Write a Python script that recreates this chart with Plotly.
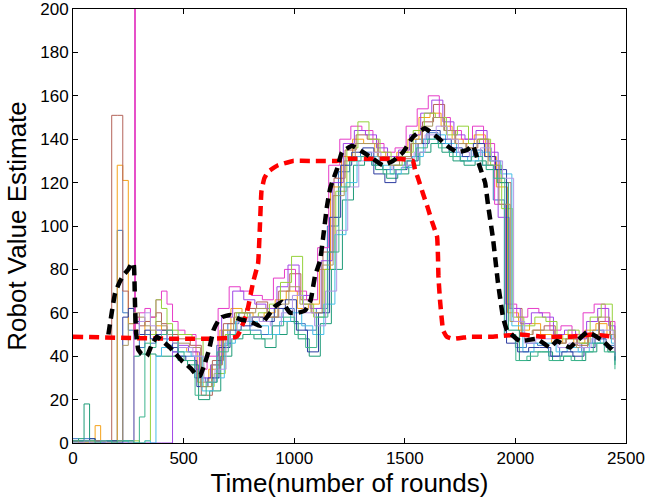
import plotly.graph_objects as go

# Time grid (rounds) on which the individual robot estimates are sampled
rounds = list(range(0, 500, 25)) + list(range(500, 2451, 50))

# Individual robot value estimates (step traces)
s_blue = [2,1,2,1,1,0,1,1,98,60,52,48,44,50,46,52,48,45,42,40,
          40,30,28,45,55,60,52,50,58,62,55,52,62,100,125,132,134,128,126,128,
          132,140,143,138,134,130,135,128,112,50,44,46,45,40,44,42,46,52,45,38]
s_orange = [0,1,0,1,8,1,0,0,128,121,55,52,48,56,50,54,52,50,46,44,
            42,28,34,52,62,60,58,60,66,70,62,64,80,118,132,140,138,134,130,134,
            140,150,152,146,140,138,142,132,118,60,52,55,50,46,50,46,52,55,50,44]
s_brown = [1,0,1,0,1,0,1,151,151,70,62,58,54,56,58,60,55,52,50,48,
           45,22,38,55,60,62,65,58,70,78,66,60,88,122,135,142,140,132,130,131,
           138,148,156,144,138,136,140,130,120,62,50,52,54,46,48,45,50,56,48,42]
s_magenta = [1,1,0,1,1,0,1,1,1,1,1,55,60,62,58,66,70,64,56,52,
             50,34,40,62,72,70,68,66,76,80,70,66,90,128,140,146,144,138,134,136,
             146,154,160,150,144,140,146,138,110,64,58,62,60,52,54,50,60,64,56,46]
s_purple = [1,0,1,0,0,0,0,0,0,0,0,0,0,0,0,0,0,0,42,45,
            42,30,36,58,70,66,64,62,72,82,68,62,84,120,138,144,142,136,132,135,
            142,152,158,148,142,140,144,134,104,62,55,60,58,50,52,48,56,62,54,44]
s_lime = [0,1,0,1,0,1,0,1,0,1,0,1,0,1,50,66,62,55,52,50,
          48,26,32,50,60,58,60,64,74,86,64,58,80,116,136,148,140,134,128,134,
          144,152,150,142,146,138,140,128,108,58,54,58,56,48,52,46,58,64,52,42]
s_teal = [1,2,18,2,1,1,1,1,1,1,1,40,41,41,41,40,40,40,40,38,
          36,20,24,40,48,50,48,44,50,56,48,40,55,80,112,128,130,126,122,124,
          128,134,138,134,130,128,130,126,120,52,38,42,42,38,40,38,42,46,42,36]
s_cyan = [0,1,1,0,1,0,1,0,0,1,0,0,0,1,0,40,44,48,46,42,
          40,24,30,46,56,56,54,50,56,60,54,50,64,96,120,132,132,128,124,127,
          132,140,142,138,132,130,134,130,124,54,42,46,46,42,44,42,46,50,46,40]
s_navy = [1,1,1,2,1,1,1,1,0,58,62,56,50,52,48,50,52,48,44,40,
          38,26,30,44,52,54,58,56,62,66,52,42,60,104,128,134,136,124,120,126,
          130,138,144,140,136,132,138,132,126,46,42,44,44,40,42,40,44,48,44,38]
s_olive = [1,0,1,0,1,1,0,0,1,45,55,60,58,54,52,56,54,50,48,46,
           44,26,36,52,58,60,62,58,64,72,64,60,82,114,130,138,138,132,128,132,
           138,146,150,144,138,136,140,128,110,56,50,52,52,46,48,44,50,58,50,42]
s_lilac = [0,0,1,0,0,1,0,0,0,0,0,50,56,60,54,52,50,48,46,44,
           40,28,34,48,56,58,56,54,60,68,60,54,70,98,118,130,134,130,126,128,
           134,142,146,140,134,132,136,130,122,56,46,48,48,44,46,44,48,52,48,40]
s_seagreen = [1,1,1,1,0,1,1,0,1,1,1,0,12,46,44,48,50,52,48,42,
              38,22,28,42,50,52,50,48,54,58,50,44,58,88,118,130,132,128,124,126,
              130,136,140,136,132,130,132,128,122,50,38,40,42,38,40,38,42,46,42,34]

series_values = [s_blue, s_orange, s_brown, s_magenta, s_purple, s_lime,
                 s_teal, s_cyan, s_navy, s_olive, s_lilac, s_seagreen]
series_colors = ["#3a78c4", "#f5a21a", "#b4645a", "#e63cc8", "#a046e6", "#96d23c",
                 "#1e9c78", "#46bee6", "#2d3ca0", "#aa9664", "#b496e6", "#3cb48c"]
# Each robot updates its estimate at its own phase (rounds) after round 500
update_lag = [0, 14, 30, 6, 22, 38, 18, 34, 10, 26, 42, 2]

# One robot's transient outlier estimate
spike_round = [283]
spike_low = [52]
spike_high = [260]

# Mean estimate (black dashed)
mean_t = [160,175,190,210,226,250,267,275,280,285,295,310,334,355,379,405,438,465,491,515,
          536,561,575,597,615,635,655,673,710,755,800,845,877,913,945,981,1017,1049,1075,1094,
          1117,1130,1148,1162,1171,1193,1216,1261,1311,1356,1401,1447,1492,1537,1591,1646,1691,
          1736,1781,1808,1840,1863,1876,1899,1921,1944,1962,2020,2098,2156,2188,2246,2278,2323,
          2350,2396,2436]
mean_v = [50,60,69,74,77,80,83,82,65,51,43,41,40,45,49,47,44,41,38,36,
          34,31,31,37,43,52,56,58,59,57,56,54,58,63,65,60,60,61,66,77,
          84,94,109,117,120,126,134,137,134,131,128,130,134,141,145,141,137,
          134,135,137,127,120,110,94,74,58,52,47,48,44,47,44,47,51,
          50,47,43]

# True value (red dashed)
true_t = [0,740,786,814,837,845,852,865,882,927,995,1071,1130,1193,1252,1356,1424,1469,1537,
          1546,1560,1582,1605,1623,1646,1650,1652,1659,1673,1690,1718,1795,1899,2020,2120,2250,
          2350,2440]
true_v = [49,49,60,74,83,100,116,122,125,128,130,130,130,130,131,131,131,131,130,
          126,122,115,108,102,95,86,77,66,52,49,48,49,49,50,49,49,
          50,49]

x_ticks = [0, 500, 1000, 1500, 2000, 2500]
y_ticks = [0, 20, 40, 60, 80, 100, 120, 140, 160, 180, 200]

fig = go.Figure()
for vals, col, lag in zip(series_values, series_colors, update_lag):
    xs = [t if t < 500 else min(t + lag, 2450) for t in rounds]
    fig.add_trace(go.Scatter(x=xs, y=vals, mode="lines", line=dict(color=col, width=1, shape="hv"),
                             hoverinfo="skip", showlegend=False))

fig.add_trace(go.Bar(x=spike_round, y=[h - l for h, l in zip(spike_high, spike_low)], base=spike_low,
                     width=1.5, marker=dict(color="rgba(0,0,0,0)", line=dict(color="#e650c8", width=1)),
                     showlegend=False, hoverinfo="skip"))

fig.add_trace(go.Scatter(x=true_t, y=true_v, mode="lines",
                         line=dict(color="#ff0000", width=4.5, dash="10px,6px", shape="spline", smoothing=0.3),
                         showlegend=False, hoverinfo="skip"))
fig.add_trace(go.Scatter(x=mean_t, y=mean_v, mode="lines",
                         line=dict(color="#000000", width=4.5, dash="10px,6px", shape="spline", smoothing=0.3),
                         showlegend=False, hoverinfo="skip"))

font_family = "Liberation Sans, Arial, Helvetica, sans-serif"
fig.update_layout(
    width=647, height=502,
    margin=dict(l=73, r=21, t=9, b=59, autoexpand=False),
    paper_bgcolor="white", plot_bgcolor="white",
    font=dict(family=font_family, color="black", size=17),
    showlegend=False,
    bargap=0,
)
fig.update_xaxes(range=[0, 2500], tickvals=x_ticks, ticks="inside", ticklen=5, tickcolor="black",
                 showline=True, linecolor="black", linewidth=1, mirror="ticks", showgrid=False,
                 zeroline=False, tickfont=dict(size=17), automargin=False, ticklabeloverflow="allow",
                 title=dict(text="Time(number of rounds)", font=dict(size=26), standoff=4))
fig.update_yaxes(range=[0, 200], tickvals=y_ticks, ticks="inside", ticklen=5, tickcolor="black",
                 showline=True, linecolor="black", linewidth=1, mirror="ticks", showgrid=False,
                 zeroline=False, tickfont=dict(size=17), automargin=False, ticklabeloverflow="allow",
                 title=dict(text="Robot Value Estimate", font=dict(size=26), standoff=6))

fig.write_html("out.html", config={"displayModeBar": False},
               post_script="document.body.style.margin='0';document.body.style.overflow='hidden';")
